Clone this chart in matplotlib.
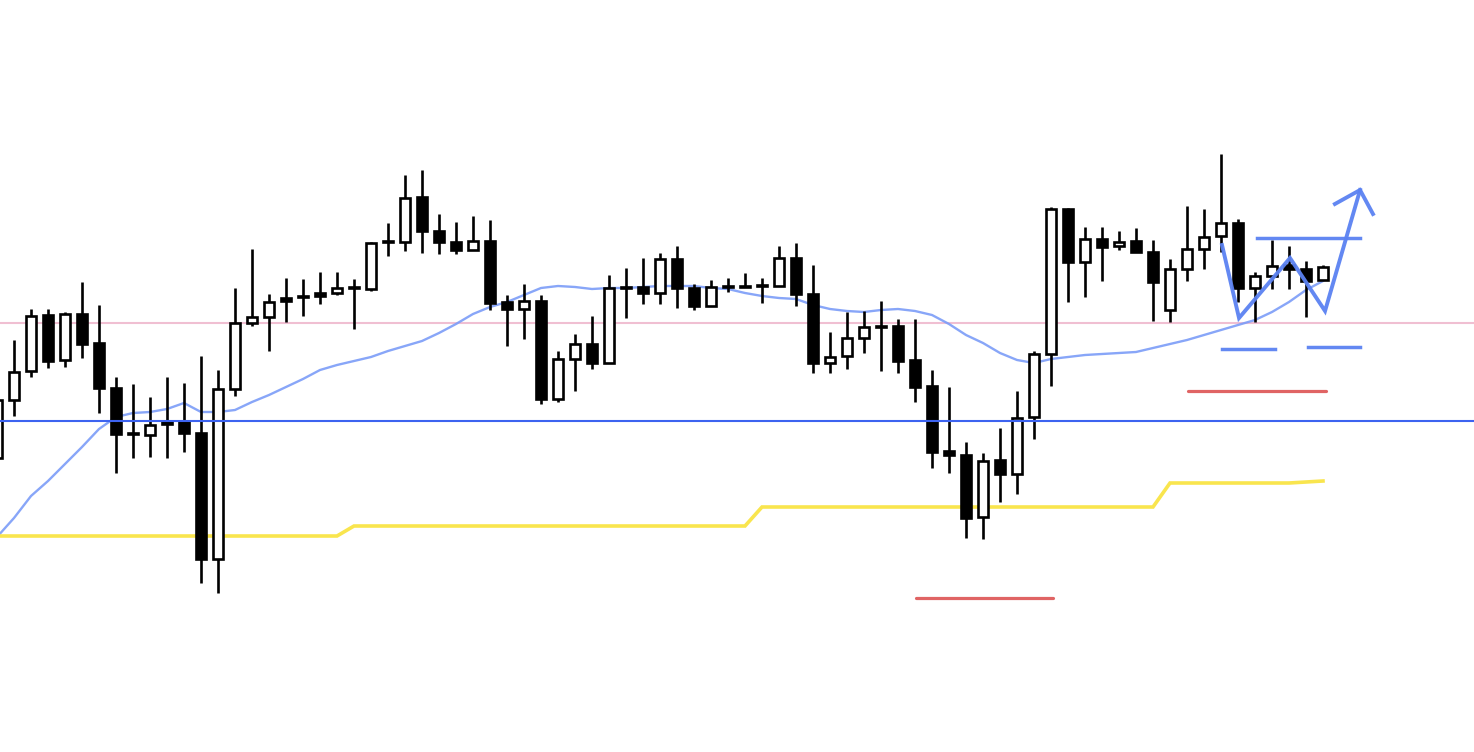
import matplotlib
matplotlib.use("Agg")
import matplotlib.pyplot as plt
import numpy as np

# Price values (arbitrary points; higher = up)
opens = [458, 400, 371, 315, 360, 314, 343, 388, 433, 435, 424, 422, 433, 559, 389,
         323, 317, 298, 296, 293, 293, 287, 289, 241, 242, 197, 231, 242, 250, 241,
         302, 309, 301, 399, 359, 344, 363, 287, 287, 293, 259, 288, 306, 286, 286,
         285, 286, 258, 294, 363, 356, 338, 326, 326, 360, 386, 451, 455, 517, 460,
         474, 417, 354, 209, 262, 239, 246, 241, 252, 310, 269, 249, 236, 223, 288,
         276, 265, 269, 280]
closes = [400, 372, 316, 361, 314, 344, 388, 434, 434, 425, 422, 433, 559, 389, 323,
          317, 302, 301, 296.5, 296, 288, 287.5, 243, 241.5, 198, 231, 242, 250, 241, 303,
          309, 301, 399, 359, 344, 363, 288, 287.5, 293, 259, 288, 306, 287, 286.5, 286.5,
          285.5, 258, 294, 363, 357, 338, 327, 326.5, 361, 387, 452, 455, 518, 461, 474,
          418, 354, 209, 262, 239, 247, 242, 252, 282, 269, 249, 237, 223, 288, 276,
          266, 269, 281, 267]
highs = [395, 340, 309, 309, 312, 282, 305, 377, 384, 397, 377, 383, 356, 370, 288,
         249, 294, 278, 279, 272, 272, 279, 242, 223, 175, 170, 214, 222, 216, 220,
         295, 284, 295, 351, 334, 316, 275, 268, 258, 253, 246, 284, 280, 278, 273,
         278, 246, 243, 265, 332, 312, 311, 301, 319, 319, 370, 387, 442, 453, 428,
         391, 351, 207, 208, 227, 227, 231, 228, 240, 259, 206, 209, 154, 219, 272,
         240, 246, 261, 265]
lows = [462, 416, 377, 368, 367, 358, 413, 473, 458, 457, 458, 452, 583, 593, 396,
        326, 351, 322, 316, 304, 295, 329, 291, 256, 251, 253, 254, 254, 250, 310,
        346, 339, 404, 402, 391, 369, 363, 318, 304, 304, 308, 310, 306, 292, 286,
        303, 286, 306, 373, 373, 369, 353, 371, 373, 402, 468, 473, 538, 539, 502,
        494, 439, 386, 302, 297, 281, 250, 252, 321, 322, 281, 269, 252, 302, 322,
        289, 289, 317, 280]

# Moving average (thin blue line)
ma = [537, 518, 496, 481, 464, 447, 429, 417, 413, 412, 409, 403, 412, 412, 410,
      402, 395, 387, 379, 370, 365, 361, 357, 351, 346, 341, 333, 324, 314, 307,
      302, 295, 288, 286, 287, 289, 288, 288, 287, 286, 286, 286, 288, 289, 293,
      296, 298, 299, 305, 309, 311, 312, 310, 309, 311, 315, 324, 335, 343, 353,
      360, 363, 359, 357, 355, 354, 353, 352, 348, 344, 340, 335, 330, 325, 320,
      312, 302, 290, 281]

# Yellow step line (e.g. longer baseline)
baseline = [536] * 21 + [526] * 24 + [507] * 24 + [483] * 8 + [482, 481]

# Horizontal levels
pink_level = 323
blue_level = 421
red_levels = [(54.06, 62.1, 598), (70.06, 78.18, 391)]

# Drawn scenario (index, price)
zig_x = [72.06, 73.06, 76.06, 78.12, 80.18]
zig_y = [245, 318, 258, 311, 190]
arrow_x = [78.7, 80.18, 80.94]
arrow_y = [204, 190, 214]
neck = (74.1, 80.18, 238)
short_lines = [(72.06, 75.18, 349), (77.12, 80.18, 347)]


def P(v):
    return 760 - np.asarray(v, dtype=float)


fig = plt.figure(figsize=(14.74, 7.52), dpi=100)
ax = fig.add_axes([0, 0, 1, 1])
ax.set_xlim(3 / 17, 1477 / 17)
ax.set_ylim(8, 760)
ax.axis("off")

n = len(opens)
xs = np.arange(n)

# background lines (behind candles)
ax.axhline(P(pink_level), color="#f0bfd2", lw=1.5, zorder=1)
ax.plot(xs, P(ma), color="#7b9cf8", lw=1.7, alpha=0.9, zorder=1)
ax.plot(xs, P(baseline), color="#f9e54e", lw=2.6, zorder=1, solid_joinstyle="miter")

o = P(opens)
c = P(closes)
h = P(highs)
l = P(lows)

ax.vlines(xs, l, h, color="black", lw=1.9, zorder=2)
bottoms = np.minimum(o, c)
heights = np.maximum(np.abs(c - o), 0.01)
colors = ["white" if cc > oo else "black" for oo, cc in zip(o, c)]
ax.bar(xs, heights, bottom=bottoms, width=0.6, color=colors, edgecolor="black",
       linewidth=1.9, zorder=3)

# blue level on top
ax.axhline(P(blue_level), color="#3d63f0", lw=1.5, zorder=4)

# red levels
for x0, x1, yv in red_levels:
    ax.plot([x0, x1], [P(yv), P(yv)], color="#e06464", lw=2.3, zorder=4,
            solid_capstyle="round")

# scenario drawing
bc = "#5b82f2"
ax.plot(zig_x, P(zig_y), color=bc, lw=2.8, zorder=5, alpha=0.95,
        solid_joinstyle="miter")
ax.plot(arrow_x, P(arrow_y), color=bc, lw=2.8, zorder=5, alpha=0.95,
        solid_joinstyle="miter")
ax.plot([neck[0], neck[1]], [P(neck[2])] * 2, color=bc, lw=2.5, zorder=5, alpha=0.95)
for x0, x1, yv in short_lines:
    ax.plot([x0, x1], [P(yv)] * 2, color=bc, lw=2.5, zorder=5, alpha=0.95)

fig.savefig("out.png", dpi=100, facecolor="white")
